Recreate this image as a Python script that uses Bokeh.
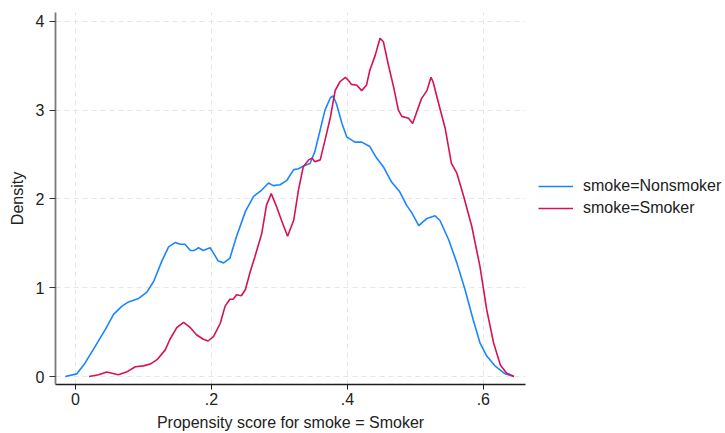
from bokeh.plotting import figure
from bokeh.models import Range1d, FixedTicker, CustomJSTickFormatter, Legend, LegendItem
from bokeh.layouts import row
from bokeh.embed import file_html
from bokeh.resources import INLINE

# ---- data ----
x_nonsmoker = [-0.015, 0.002, 0.014, 0.029, 0.044, 0.056, 0.068, 0.078, 0.093, 0.105,
               0.115, 0.127, 0.137, 0.147, 0.154, 0.161, 0.169, 0.175, 0.181, 0.188,
               0.198, 0.203, 0.210, 0.218, 0.227, 0.237, 0.250, 0.262, 0.274, 0.284,
               0.291, 0.301, 0.311, 0.321, 0.328, 0.335, 0.345, 0.352, 0.360, 0.367,
               0.375, 0.379, 0.384, 0.392, 0.399, 0.411, 0.421, 0.433, 0.443, 0.453,
               0.465, 0.477, 0.487, 0.495, 0.505, 0.517, 0.529, 0.536, 0.549, 0.561,
               0.573, 0.585, 0.595, 0.605, 0.617, 0.632, 0.645]
y_nonsmoker = [0.00, 0.03, 0.15, 0.34, 0.53, 0.70, 0.79, 0.84, 0.88, 0.95,
               1.07, 1.30, 1.46, 1.51, 1.49, 1.49, 1.42, 1.42, 1.45, 1.42,
               1.45, 1.39, 1.30, 1.28, 1.33, 1.58, 1.86, 2.03, 2.10, 2.18,
               2.15, 2.16, 2.21, 2.33, 2.34, 2.37, 2.40, 2.53, 2.78, 3.00,
               3.14, 3.16, 3.07, 2.85, 2.70, 2.64, 2.64, 2.59, 2.46, 2.36,
               2.19, 2.08, 1.93, 1.84, 1.70, 1.78, 1.81, 1.76, 1.54, 1.28,
               0.98, 0.64, 0.38, 0.23, 0.12, 0.03, 0.00]

x_smoker = [0.020, 0.034, 0.046, 0.063, 0.075, 0.088, 0.100, 0.110, 0.120, 0.132,
            0.139, 0.149, 0.159, 0.169, 0.178, 0.188, 0.195, 0.203, 0.213, 0.220,
            0.227, 0.232, 0.237, 0.244, 0.250, 0.257, 0.264, 0.274, 0.281, 0.288,
            0.296, 0.303, 0.312, 0.321, 0.328, 0.335, 0.343, 0.348, 0.352, 0.360,
            0.367, 0.375, 0.382, 0.389, 0.397, 0.401, 0.406, 0.414, 0.421, 0.428,
            0.433, 0.441, 0.448, 0.453, 0.460, 0.468, 0.475, 0.480, 0.490, 0.496,
            0.502, 0.509, 0.517, 0.523, 0.526, 0.534, 0.544, 0.553, 0.561, 0.571,
            0.583, 0.595, 0.605, 0.615, 0.625, 0.634, 0.645]
y_smoker = [0.00, 0.02, 0.05, 0.02, 0.05, 0.11, 0.12, 0.14, 0.19, 0.30,
            0.42, 0.55, 0.61, 0.55, 0.47, 0.42, 0.40, 0.45, 0.60, 0.79,
            0.87, 0.87, 0.92, 0.91, 0.98, 1.18, 1.35, 1.61, 1.93, 2.06,
            1.91, 1.76, 1.58, 1.76, 2.10, 2.36, 2.44, 2.46, 2.42, 2.44,
            2.66, 2.92, 3.22, 3.32, 3.37, 3.34, 3.29, 3.28, 3.22, 3.28,
            3.45, 3.62, 3.81, 3.77, 3.52, 3.26, 3.00, 2.93, 2.91, 2.85,
            2.98, 3.13, 3.22, 3.37, 3.32, 3.08, 2.79, 2.40, 2.29, 2.03,
            1.69, 1.24, 0.75, 0.38, 0.13, 0.04, 0.00]

x_ticks = [0, 0.2, 0.4, 0.6]
y_ticks = [0, 1, 2, 3, 4]
series_labels = ["smoke=Nonsmoker", "smoke=Smoker"]
x_title = "Propensity score for smoke = Smoker"
y_title = "Density"

FONT = "Liberation Sans"
FS = "16px"
BLUE = "#1a85ff"
RED = "#d41159"

p = figure(width=538, height=433, output_backend="svg", toolbar_location=None,
           x_range=Range1d(-0.0294, 0.662), y_range=Range1d(-0.09, 4.10),
           min_border_left=55, min_border_right=13, min_border_top=12,
           min_border_bottom=46)
p.outline_line_color = None
p.background_fill_color = "white"
p.border_fill_color = "white"

p.line(x_nonsmoker, y_nonsmoker, line_color=BLUE, line_width=1.6)
p.line(x_smoker, y_smoker, line_color=RED, line_width=1.6)

fmt = CustomJSTickFormatter(code="""
if (Math.abs(tick) < 1e-9) return '0';
var s = tick.toFixed(1);
return s.replace(/^0/, '');
""")

xa = p.xaxis[0]
xa.ticker = FixedTicker(ticks=x_ticks)
xa.formatter = fmt
xa.axis_label = x_title
xa.axis_line_color = "#1e1e1e"
xa.axis_line_width = 1.3
xa.major_tick_line_color = "#1e1e1e"
xa.major_tick_out = 5
xa.major_tick_in = 0
xa.minor_tick_line_color = None
xa.major_label_standoff = 3
xa.axis_label_standoff = 6

ya = p.yaxis[0]
ya.ticker = FixedTicker(ticks=y_ticks)
ya.axis_label = y_title
ya.axis_line_color = "#7a7a7a"
ya.axis_line_width = 1.8
ya.major_tick_line_color = "#333333"
ya.major_tick_out = 6
ya.major_tick_in = 0
ya.minor_tick_line_color = None
ya.major_label_standoff = 5
ya.axis_label_standoff = 7

for ax in (xa, ya):
    ax.major_label_text_font = FONT
    ax.major_label_text_font_size = FS
    ax.major_label_text_color = "#222222"
    ax.axis_label_text_font = FONT
    ax.axis_label_text_font_size = FS
    ax.axis_label_text_font_style = "normal"
    ax.axis_label_text_color = "#222222"

for g, t in ((p.xgrid[0], x_ticks), (p.ygrid[0], y_ticks)):
    g.ticker = FixedTicker(ticks=t)
    g.grid_line_color = "#e6e6e6"
    g.grid_line_dash = "5 4"
    g.grid_line_width = 1

# ---- legend panel to the right of the plot ----
# the key lines carry the same series, but this panel's ranges keep them out of view
lg = figure(width=184, height=433, output_backend="svg", toolbar_location=None,
            x_range=Range1d(10, 11), y_range=Range1d(10, 11),
            min_border_left=0, min_border_right=0, min_border_top=0, min_border_bottom=0)
lg.axis.visible = False
lg.grid.visible = False
lg.outline_line_color = None
lg.background_fill_color = "white"
lg.border_fill_color = "white"
k1 = lg.line(x_nonsmoker, y_nonsmoker, line_color=BLUE, line_width=1.6)
k2 = lg.line(x_smoker, y_smoker, line_color=RED, line_width=1.6)

legend = Legend(items=[LegendItem(label=series_labels[0], renderers=[k1]),
                       LegendItem(label=series_labels[1], renderers=[k2])],
                location=(0, 166), padding=0, margin=0, spacing=2,
                glyph_width=35, glyph_height=20, label_height=20, label_standoff=10,
                label_text_font=FONT, label_text_font_size=FS,
                label_text_color="#222222",
                border_line_color=None, background_fill_alpha=0)
lg.add_layout(legend, "center")

layout = row(p, lg)
open("out.html", "w").write(file_html(layout, INLINE))
